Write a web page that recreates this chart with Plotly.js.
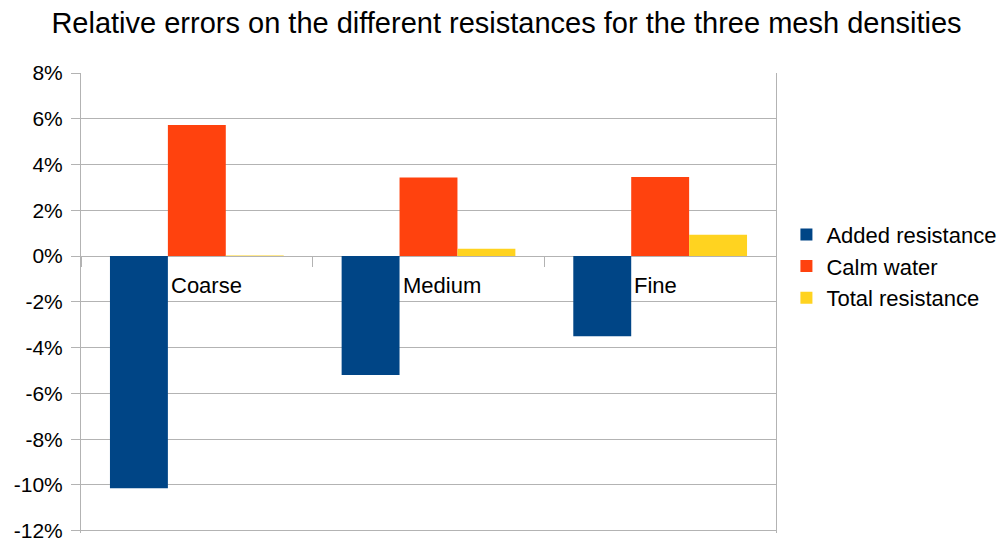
<!DOCTYPE html>
<html>
<head>
<meta charset="utf-8">
<script src="https://cdn.plot.ly/plotly-3.0.1.min.js"></script>
<style>
  html, body { margin: 0; padding: 0; background: #fff; }
  #chart { width: 1003px; height: 539px; }
</style>
</head>
<body>
<div id="chart"></div>
<script>
// Mesh densities and relative errors (in %) per resistance component
const meshes = ['Coarse', 'Medium', 'Fine'];
const addedResistance = [-10.15, -5.2, -3.5];
const calmWater = [5.73, 3.43, 3.46];
const totalResistance = [0.03, 0.32, 0.93];

const seriesNames = ['Added resistance', 'Calm water', 'Total resistance'];
const seriesColors = ['#004586', '#ff420e', '#ffd320'];

const yTickVals = [8, 6, 4, 2, 0, -2, -4, -6, -8, -10, -12];
const yTickText = ['8%', '6%', '4%', '2%', '0%', '-2%', '-4%', '-6%', '-8%', '-10%', '-12%'];

const FONT = 'Liberation Sans, Arial, sans-serif';
const GRID = '#b3b3b3';

const traces = [addedResistance, calmWater, totalResistance].map((vals, i) => ({
  type: 'bar',
  name: seriesNames[i],
  x: meshes,
  y: vals,
  marker: { color: seriesColors[i], line: { width: 0 } },
  hoverinfo: 'x+y+name'
}));

const yMin = -12.1, yMax = 8.0005;

const layout = {
  width: 1003,
  height: 539,
  paper_bgcolor: '#ffffff',
  plot_bgcolor: '#ffffff',
  margin: { l: 81, r: 227, t: 73, b: 6, pad: 0, autoexpand: false },
  font: { family: FONT, size: 22, color: '#000000' },
  title: {
    text: 'Relative errors on the different resistances for the three mesh densities',
    font: { family: FONT, size: 29, color: '#000000' },
    x: 0.505, xanchor: 'center',
    y: 0.958, yanchor: 'middle'
  },
  barmode: 'group',
  bargap: 0.25,
  bargroupgap: 0,
  showlegend: true,
  legend: {
    x: 1.015, xanchor: 'left',
    y: 0.58, yanchor: 'middle',
    font: { family: FONT, size: 22, color: '#000000' },
    bgcolor: 'rgba(0,0,0,0)',
    itemclick: false,
    tracegroupgap: 0
  },
  xaxis: {
    type: 'category',
    range: [-0.5, 2.5],
    anchor: 'free',
    position: (0 - yMin) / (yMax - yMin),
    showgrid: false,
    zeroline: false,
    showline: false,
    ticks: 'outside',
    tickson: 'boundaries',
    ticklen: 10,
    tickwidth: 1,
    tickcolor: GRID,
    showticklabels: false,
    fixedrange: true
  },
  yaxis: {
    range: [yMin, yMax],
    tickvals: yTickVals,
    ticktext: yTickText,
    showgrid: true,
    gridcolor: GRID,
    gridwidth: 1,
    zeroline: false,
    showline: true,
    linecolor: GRID,
    linewidth: 1,
    mirror: true,
    ticks: 'outside',
    ticklen: 9,
    tickcolor: GRID,
    ticklabelstandoff: 4,
    ticklabeloverflow: 'allow',
    tickfont: { family: FONT, size: 21, color: '#000000' },
    fixedrange: true
  },
  // Category names written just below the zero line
  annotations: meshes.map(m => ({
    x: m, y: 0,
    xref: 'x', yref: 'y',
    text: m,
    showarrow: false,
    xanchor: 'left', yanchor: 'top',
    xshift: -28, yshift: -15,
    font: { family: FONT, size: 22, color: '#000000' }
  }))
};

Plotly.newPlot('chart', traces, layout, { displayModeBar: false, staticPlot: true });
</script>
</body>
</html>
